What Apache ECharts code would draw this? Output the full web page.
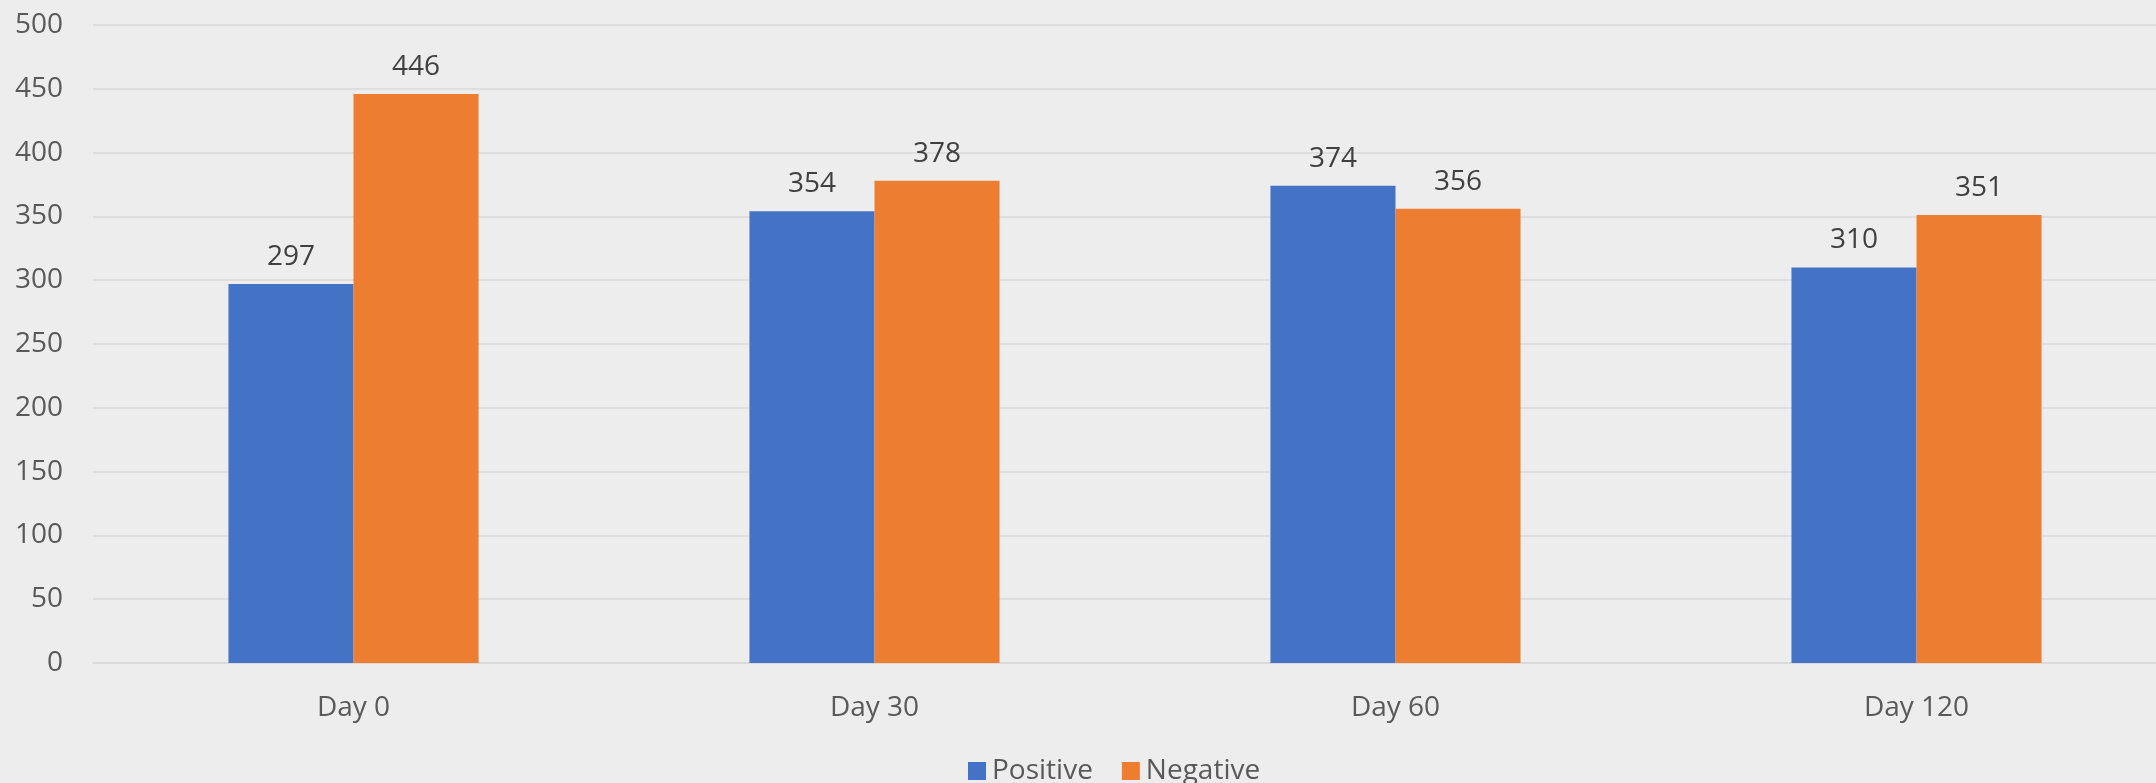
<!DOCTYPE html>
<html>
<head>
<meta charset="utf-8">
<script src="https://cdn.jsdelivr.net/npm/echarts@6/dist/echarts.min.js"></script>
<style>
html,body{margin:0;padding:0;background:#EDEDED;overflow:hidden;width:2156px;height:783px;}
#c{width:2177px;height:783px;}
</style>
</head>
<body>
<div id="c"></div>
<script>
const categories = ["Day 0", "Day 30", "Day 60", "Day 120"];
const positive = [297, 354, 374, 310];
const negative = [446, 378, 356, 351];
const yTicks = [0, 50, 100, 150, 200, 250, 300, 350, 400, 450, 500];

const FONT = "'Open Sans', 'Noto Sans', sans-serif";
const chart = echarts.init(document.getElementById('c'), null, {renderer: 'canvas'});
const labelStyle = {
  show: true, position: 'top', distance: 13,
  color: '#404040', fontSize: 28, fontFamily: FONT
};
chart.setOption({
  backgroundColor: '#EDEDED',
  animation: false,
  grid: {left: 93, right: 0, top: 25, bottom: 120, containLabel: false},
  legend: {
    data: ['Positive', 'Negative'],
    top: 752, left: 963,
    itemWidth: 18, itemHeight: 18, itemGap: 29,
    icon: 'rect',
    textStyle: {color: '#595959', fontSize: 28, fontFamily: FONT, padding: [0, 0, 0, 1]}
  },
  xAxis: {
    type: 'category',
    data: categories,
    axisLine: {show: true, lineStyle: {color: '#D9D9D9', width: 1.5}},
    axisTick: {show: false},
    axisLabel: {color: '#595959', fontSize: 28, fontFamily: FONT, margin: 31}
  },
  yAxis: {
    type: 'value',
    min: yTicks[0], max: yTicks[yTicks.length - 1], interval: 50,
    axisLine: {show: false},
    axisTick: {show: false},
    splitLine: {lineStyle: {color: '#D9D9D9', width: 1.5}},
    axisLabel: {color: '#595959', fontSize: 28, fontFamily: FONT, margin: 30}
  },
  series: [
    {name: 'Positive', type: 'bar', data: positive, barGap: '0%', barCategoryGap: '52%',
     itemStyle: {color: '#4472C4'}, label: labelStyle},
    {name: 'Negative', type: 'bar', data: negative,
     itemStyle: {color: '#ED7D31'}, label: labelStyle}
  ]
});
</script>
</body>
</html>
